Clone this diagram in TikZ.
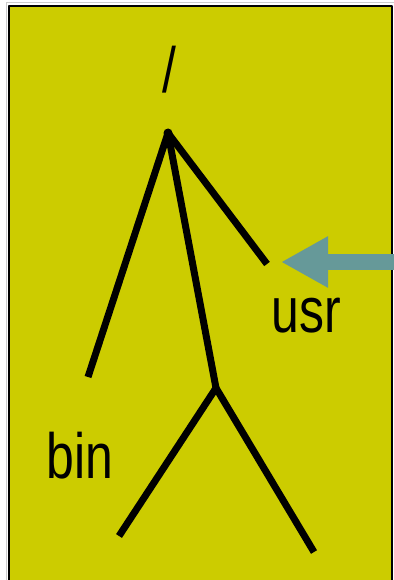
\documentclass[tikz,border=0pt]{standalone}
\usepackage{fontspec}
\setmainfont{Liberation Sans}[FakeStretch=0.78]
\usetikzlibrary{arrows.meta}

\definecolor{slideYellow}{RGB}{204,204,0}
\definecolor{pointerTeal}{RGB}{102,153,153}

\begin{document}
\begin{tikzpicture}[x=1pt, y=-1pt, line join=round]

% ---------------- styles ----------------
\tikzset{
  branch/.style ={draw, line width=7pt, line cap=butt},
  dirname/.style={font=\fontsize{64}{64}\selectfont, inner sep=0pt, anchor=base},
  pointer/.style={-{Triangle[length=47pt, width=48pt]}, line width=16pt, pointerTeal}
}

% ---------------- frame ----------------
\useasboundingbox (0,0) rectangle (393,580);
\draw[gray!40, line width=1pt] (6,3) rectangle (394,590);
\draw[fill=slideYellow, line width=2pt] (9,6) rectangle (392,590);

% ---------------- tree points ----------------
\coordinate (root)   at (168,133);
\coordinate (binEnd) at (88,377);
\coordinate (usrEnd) at (267,264);
\coordinate (mid)    at (216,388);
\coordinate (leafL)  at (119,536);
\coordinate (leafR)  at (314,552);

% ---------------- labels ----------------
\node[dirname] (slash) at (169,93)  {/};
\node[dirname] (bin)   at (80,478)  {bin};
\node[dirname] (usr)   at (306,332) {usr};

% ---------------- branches ----------------
\path[branch] (binEnd) -- (root) -- (mid);
\path[branch] (root) -- (usrEnd);
\path[branch] (leafL) -- (mid) -- (leafR);
\fill (root) circle (4.5pt);

% ---------------- pointer to usr ----------------
\coordinate (arrowTail) at (400,262);
\coordinate (arrowTip)  at (281,262);
\draw[pointer] (arrowTail) -- (arrowTip);

\end{tikzpicture}
\end{document}
